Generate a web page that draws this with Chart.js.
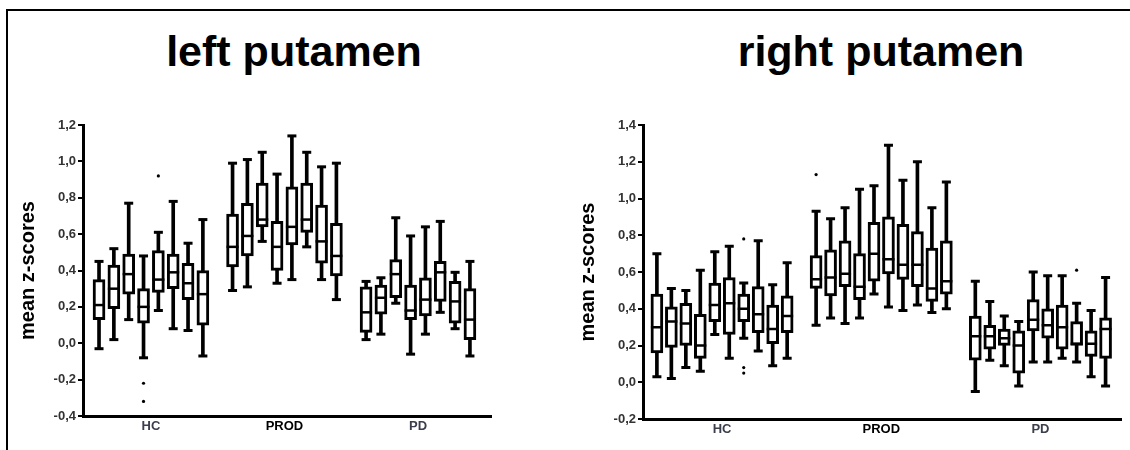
<!DOCTYPE html>
<html lang="en">
<head>
<meta charset="UTF-8">
<title>left / right putamen</title>
<script src="https://cdn.jsdelivr.net/npm/chart.js@4.4.1/dist/chart.umd.min.js"></script>
<style>
  body { margin: 0; background: #fff; font-family: "Liberation Sans", Arial, sans-serif; }
  #frame { position: absolute; left: 6px; top: 9px; right: 0; bottom: 0; border-top: 2px solid #000; border-left: 2px solid #000; }
  .title { position: absolute; top: 30px; font-weight: bold; font-size: 43px; line-height: 43px; text-align: center; color: #000; }
  #title1 { left: 0; width: 588px; }
  #title2 { left: 632px; width: 498px; }
  .panel { position: absolute; top: 0; }
  #panel1 { left: 0; }
  #panel2 { left: 565px; }
</style>
</head>
<body>
<div id="frame"></div>
<div class="title" id="title1">left putamen</div>
<div class="title" id="title2">right putamen</div>
<canvas class="panel" id="panel1" width="565" height="450"></canvas>
<canvas class="panel" id="panel2" width="565" height="450"></canvas>

<script>
  // groups on the x axis
  const groupLabels = ['HC', 'PROD', 'PD'];

  // one row per box: [min, q1, median, q3, max]
  const leftHC = [
    [-0.03, 0.13, 0.21, 0.35, 0.45],
    [0.02, 0.19, 0.30, 0.43, 0.52],
    [0.13, 0.27, 0.38, 0.49, 0.77],
    [-0.08, 0.11, 0.20, 0.30, 0.48],
    [0.18, 0.28, 0.35, 0.51, 0.61],
    [0.08, 0.30, 0.39, 0.49, 0.78],
    [0.07, 0.24, 0.33, 0.44, 0.55],
    [-0.07, 0.10, 0.27, 0.40, 0.68]
  ];
  const leftPROD = [
    [0.29, 0.42, 0.53, 0.71, 0.99],
    [0.31, 0.48, 0.59, 0.77, 1.01],
    [0.56, 0.64, 0.68, 0.88, 1.05],
    [0.33, 0.40, 0.53, 0.67, 0.93],
    [0.35, 0.54, 0.64, 0.86, 1.14],
    [0.53, 0.61, 0.68, 0.88, 1.05],
    [0.35, 0.44, 0.56, 0.76, 0.97],
    [0.24, 0.37, 0.48, 0.66, 0.99]
  ];
  const leftPD = [
    [0.02, 0.06, 0.17, 0.31, 0.34],
    [0.05, 0.16, 0.25, 0.32, 0.36],
    [0.22, 0.25, 0.38, 0.46, 0.69],
    [-0.06, 0.13, 0.18, 0.32, 0.59],
    [0.05, 0.15, 0.24, 0.36, 0.64],
    [0.17, 0.23, 0.39, 0.45, 0.67],
    [0.08, 0.11, 0.23, 0.34, 0.39],
    [-0.07, 0.02, 0.13, 0.30, 0.45]
  ];
  // [group, box, value]
  const leftOutliers = [[0, 3, -0.22], [0, 3, -0.32], [0, 4, 0.92]];

  const rightHC = [
    [0.03, 0.16, 0.30, 0.48, 0.70],
    [0.02, 0.19, 0.33, 0.41, 0.51],
    [0.08, 0.20, 0.32, 0.43, 0.50],
    [0.06, 0.13, 0.20, 0.37, 0.61],
    [0.26, 0.33, 0.42, 0.54, 0.71],
    [0.13, 0.26, 0.43, 0.57, 0.74],
    [0.24, 0.33, 0.40, 0.48, 0.54],
    [0.17, 0.27, 0.37, 0.52, 0.77],
    [0.09, 0.21, 0.29, 0.42, 0.53],
    [0.13, 0.27, 0.36, 0.47, 0.65]
  ];
  const rightPROD = [
    [0.31, 0.51, 0.56, 0.69, 0.93],
    [0.35, 0.47, 0.57, 0.72, 0.89],
    [0.32, 0.52, 0.59, 0.77, 0.95],
    [0.35, 0.45, 0.52, 0.70, 1.05],
    [0.48, 0.55, 0.70, 0.87, 1.07],
    [0.41, 0.59, 0.67, 0.90, 1.29],
    [0.39, 0.56, 0.64, 0.86, 1.10],
    [0.42, 0.52, 0.64, 0.82, 1.20],
    [0.38, 0.44, 0.51, 0.73, 0.95],
    [0.40, 0.48, 0.55, 0.77, 1.09]
  ];
  const rightPD = [
    [-0.05, 0.12, 0.25, 0.36, 0.55],
    [0.12, 0.18, 0.25, 0.31, 0.44],
    [0.09, 0.20, 0.24, 0.29, 0.36],
    [-0.02, 0.05, 0.20, 0.28, 0.33],
    [0.11, 0.28, 0.34, 0.45, 0.60],
    [0.11, 0.24, 0.31, 0.40, 0.58],
    [0.13, 0.18, 0.30, 0.42, 0.58],
    [0.11, 0.20, 0.21, 0.33, 0.43],
    [0.03, 0.14, 0.21, 0.28, 0.39],
    [-0.02, 0.13, 0.29, 0.35, 0.57]
  ];
  const rightOutliers = [[0, 6, 0.78], [0, 6, 0.08], [0, 6, 0.05], [1, 0, 1.13], [2, 7, 0.61]];

  const yTitle = 'mean z-scores';
  const fontFamily = '"Liberation Sans", Arial, sans-serif';

  function fmt(v) {
    if (Math.abs(v) < 1e-9) v = 0;
    return v.toFixed(1).replace('.', ',');
  }

  function makeChart(id, groups, outliers, cfg) {
    const per = groups[0].length;
    // one empty slot between groups
    const slot = (g, b) => g * (per + 1) + b;
    const centers = groups.map((_, g) => slot(g, 0) + (per - 1) / 2);

    const whiskers = [], boxes = [], caps = [], medians = [], dots = [];
    groups.forEach((rows, g) => rows.forEach((s, b) => {
      const x = slot(g, b);
      whiskers.push({x: x, y: [s[0], s[4]]});
      boxes.push({x: x, y: [s[1], s[3]]});
      caps.push({x: x, y: s[0]}, {x: x, y: s[4]});
      medians.push({x: x, y: s[2]});
    }));
    outliers.forEach(o => dots.push({x: slot(o[0], o[1]), y: o[2]}));

    return new Chart(document.getElementById(id), {
      type: 'bar',
      data: {
        datasets: [
          { data: whiskers, backgroundColor: '#000', borderWidth: 0, grouped: false,
            barThickness: 3, maxBarThickness: 3, categoryPercentage: 1, barPercentage: 1, order: 5 },
          { data: boxes, backgroundColor: '#fff', borderColor: '#000', borderWidth: 3, borderSkipped: false,
            grouped: false, barThickness: 12, maxBarThickness: 12, categoryPercentage: 1, barPercentage: 1, order: 4 },
          { type: 'scatter', data: caps, pointStyle: 'line', pointRadius: 4.5, borderColor: '#000',
            borderWidth: 3, order: 3 },
          { type: 'scatter', data: medians, pointStyle: 'line', pointRadius: 6, borderColor: '#000',
            borderWidth: 2.5, order: 2 },
          { type: 'scatter', data: dots, pointStyle: 'circle', pointRadius: 1.6, backgroundColor: '#000',
            borderWidth: 0, order: 1 }
        ]
      },
      options: {
        responsive: false,
        animation: false,
        events: [],
        layout: { padding: { left: 0, right: cfg.padRight, top: 125, bottom: cfg.padBottom } },
        plugins: { legend: { display: false }, tooltip: { enabled: false } },
        scales: {
          x: {
            type: 'linear',
            offset: false,
            min: cfg.xMin,
            max: cfg.xMax,
            grid: { display: false, drawTicks: false },
            border: { display: true, color: '#000', width: 3 },
            afterBuildTicks: function(scale) {
              scale.ticks = centers.map(v => ({ value: v }));
            },
            afterFit: function(scale) { scale.height = 24; },
            ticks: {
              autoSkip: false,
              maxRotation: 0,
              padding: 3,
              font: { family: fontFamily, size: 13, weight: 'bold' },
              color: ctx => ctx.index === 1 ? '#000' : '#3b3f4c',
              callback: (v, i) => groupLabels[i]
            }
          },
          y: {
            min: cfg.yMin,
            max: cfg.yMax,
            afterFit: function(scale) { scale.width = cfg.yWidth; },
            grid: { display: true, drawOnChartArea: false, drawTicks: true, tickLength: 5, color: '#000', lineWidth: 2 },
            border: { display: true, color: '#000', width: 3 },
            ticks: {
              stepSize: 0.2,
              padding: 2,
              font: { family: fontFamily, size: 13, weight: 'bold' },
              color: '#333',
              callback: v => fmt(v)
            },
            title: {
              display: true,
              text: yTitle,
              color: '#000',
              font: { family: fontFamily, size: 20, weight: 'bold' },
              padding: { top: cfg.titlePad, bottom: 0 }
            }
          }
        }
      }
    });
  }

  makeChart('panel1', [leftHC, leftPROD, leftPD], leftOutliers,
    { xMin: -1.08, xMax: 26.42, yMin: -0.4, yMax: 1.2, yWidth: 83, padRight: 74, padBottom: 10, titlePad: 16 });
  makeChart('panel2', [rightHC, rightPROD, rightPD], rightOutliers,
    { xMin: -0.96, xMax: 32.1, yMin: -0.2, yMax: 1.4, yWidth: 78, padRight: 5, padBottom: 7, titlePad: 11 });
</script>
</body>
</html>
